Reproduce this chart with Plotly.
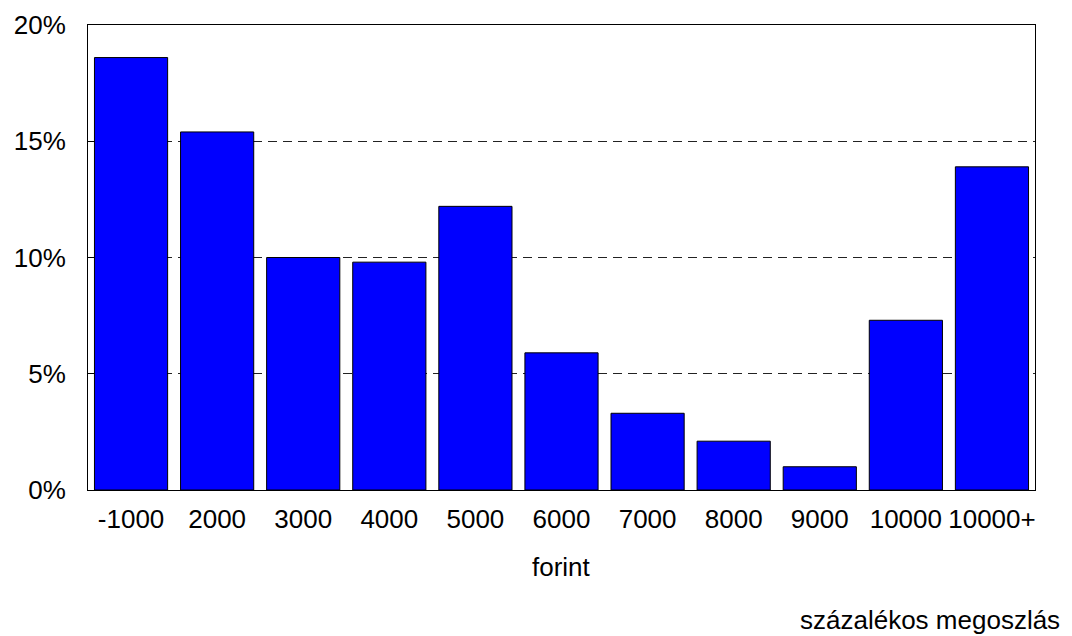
import plotly.graph_objects as go

categories = ["-1000", "2000", "3000", "4000", "5000", "6000", "7000", "8000", "9000", "10000", "10000+"]
values = [18.6, 15.4, 10.0, 9.8, 12.2, 5.9, 3.3, 2.1, 1.0, 7.3, 13.9]
y_ticks = [0, 5, 10, 15, 20]
y_labels = ["0%", "5%", "10%", "15%", "20%"]

W, H = 1072, 636
L, R, T, B = 88, 37, 25, 146

fig = go.Figure(go.Bar(
    x=categories, y=values,
    marker=dict(color="#0000FF", line=dict(color="black", width=1)),
))

font = dict(family="Liberation Sans, Arial, sans-serif", size=26, color="black")

plot_h = H - T - B
plot_w = W - L - R
def py(pix):
    return (H - B - pix) / plot_h
def px(pix):
    return (pix - L) / plot_w

fig.update_layout(
    width=W, height=H,
    margin=dict(l=L, r=R, t=T, b=B, autoexpand=False),
    paper_bgcolor="white", plot_bgcolor="white",
    bargap=0.15,
    font=font,
    showlegend=False,
    xaxis=dict(
        type="category", showline=True, linecolor="black", linewidth=1, mirror=True,
        ticks="", showgrid=False, tickfont=font, ticklabelstandoff=6,
    ),
    yaxis=dict(
        range=[0, 20], tickvals=y_ticks, ticktext=y_labels,
        showline=True, linecolor="black", linewidth=1, mirror=True,
        ticks="inside", ticklen=6, tickcolor="black",
        showgrid=True, gridcolor="#222222", griddash="9px,6px", gridwidth=1,
        tickfont=font, zeroline=False, ticklabelstandoff=16,
    ),
    annotations=[
        dict(text="forint", xref="paper", yref="paper", x=px(561.5), y=py(567),
             showarrow=False, font=font, xanchor="center", yanchor="middle"),
        dict(text="százalékos megoszlás", xref="paper", yref="paper", x=px(1062), y=py(620),
             showarrow=False, font=font, xanchor="right", yanchor="middle"),
    ],
)

fig.write_html("out.html", config={"displayModeBar": False},
               post_script="document.body.style.margin='0px';")
